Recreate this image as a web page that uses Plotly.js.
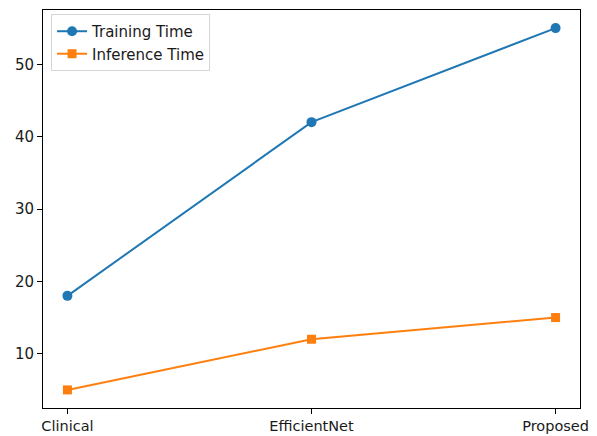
<!DOCTYPE html>
<html>
<head>
<meta charset="utf-8">
<script src="https://cdn.plot.ly/plotly-3.0.1.min.js"></script>
<style>
  html, body { margin: 0; padding: 0; background: #ffffff; }
  #chart { width: 597px; height: 436px; }
</style>
</head>
<body>
<div id="chart"></div>
<script>
// Model comparison: training vs inference time
const models = ["Clinical", "EfficientNet", "Proposed"];
const trainingTime = [18, 42, 55];
const inferenceTime = [5, 12, 15];
const yTicks = [10, 20, 30, 40, 50];

const font = { family: "DejaVu Sans, sans-serif", size: 15, color: "#1a1a1a" };
const xFont = { family: "DejaVu Sans, sans-serif", size: 14.5, color: "#1a1a1a" };

const traces = [
  {
    x: [0, 1, 2], y: trainingTime, name: "Training Time",
    mode: "lines+markers", type: "scatter",
    line: { color: "#1f77b4", width: 2 },
    marker: { symbol: "circle", size: 10, color: "#1f77b4" }
  },
  {
    x: [0, 1, 2], y: inferenceTime, name: "Inference Time",
    mode: "lines+markers", type: "scatter",
    line: { color: "#ff7f0e", width: 2 },
    marker: { symbol: "square", size: 9, color: "#ff7f0e" }
  }
];

const layout = {
  width: 597, height: 436,
  margin: { l: 43, r: 17, t: 10, b: 28, pad: 0 },
  paper_bgcolor: "#ffffff", plot_bgcolor: "#ffffff",
  font: font,
  showlegend: true,
  legend: {
    x: 0.015, y: 0.99, xanchor: "left", yanchor: "top",
    bgcolor: "rgba(255,255,255,0.8)", bordercolor: "#d6d6d6", borderwidth: 1,
    font: font, tracegroupgap: 0
  },
  xaxis: {
    range: [-0.1, 2.1],
    tickmode: "array", tickvals: [0, 1, 2], ticktext: models,
    ticks: "outside", ticklen: 5, tickwidth: 1, tickcolor: "#000",
    showline: true, linecolor: "#000", linewidth: 1, mirror: true,
    showgrid: false, zeroline: false, tickfont: xFont
  },
  yaxis: {
    range: [2.5, 57.5],
    tickmode: "array", tickvals: yTicks, ticktext: yTicks.map(String),
    ticks: "outside", ticklen: 5, tickwidth: 1, tickcolor: "#000",
    showline: true, linecolor: "#000", linewidth: 1, mirror: true,
    showgrid: false, zeroline: false, tickfont: font
  }
};

Plotly.newPlot("chart", traces, layout, { displayModeBar: false, staticPlot: true });
</script>
</body>
</html>
